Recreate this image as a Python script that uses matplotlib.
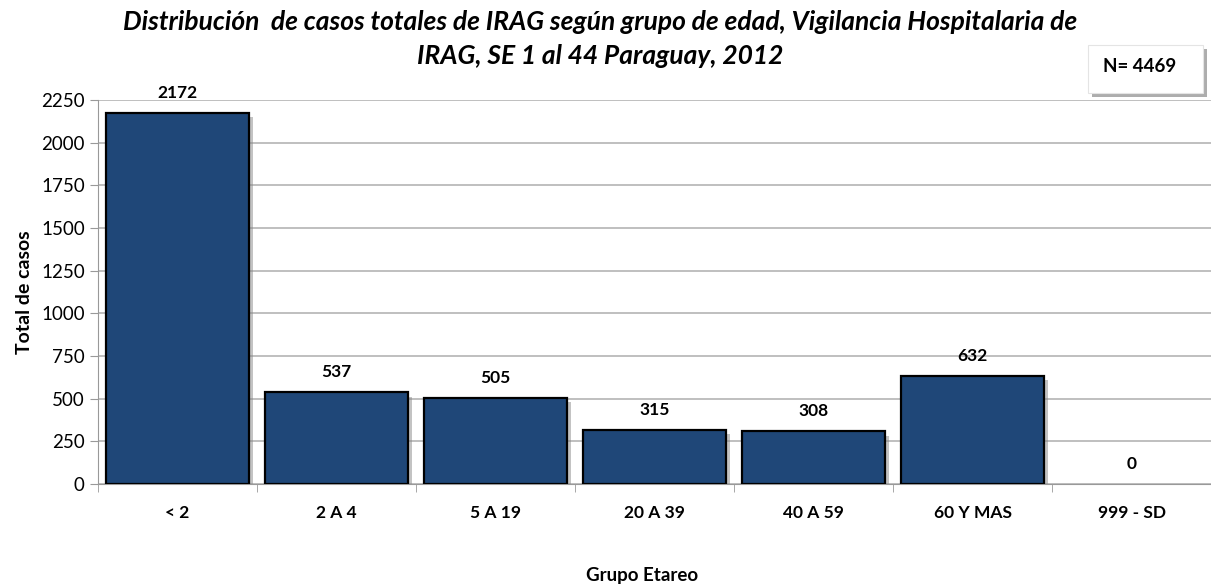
import matplotlib
matplotlib.use("Agg")
import matplotlib.pyplot as plt
import matplotlib.patheffects as pe
from matplotlib.patches import Rectangle
import numpy as np

plt.rcParams['font.family'] = ['Lato', 'DejaVu Sans']

# datos
grupos = ["< 2", "2 A 4", "5 A 19", "20 A 39", "40 A 59", "60 Y MAS", "999 - SD"]
casos = [2172, 537, 505, 315, 308, 632, 0]
y_ticks = [0, 250, 500, 750, 1000, 1250, 1500, 1750, 2000, 2250]
total = 4469

fig = plt.figure(figsize=(12.11, 5.87), dpi=100)
ax = fig.add_axes([98 / 1211, 1 - 484 / 587, 1 - 98 / 1211, (484 - 100) / 587])

x = np.arange(len(grupos))
shadow = [pe.SimplePatchShadow(offset=(3, -3), shadow_rgbFace='#888888', alpha=0.5), pe.Normal()]
barras = ax.bar(x, casos, width=0.9, color='#1f4778', edgecolor='black', linewidth=1.6, zorder=3)
for b, v in zip(barras, casos):
    if v == 0:  # sin borde para barra vacia
        b.set_linewidth(0)
    else:
        b.set_path_effects(shadow)

for xi, v in zip(x, casos):  # etiquetas de valor
    ax.annotate(str(v), (xi, v), xytext=(0, 14.5), textcoords='offset points',
                ha='center', va='center', fontsize=12.5, fontweight='bold')

ax.set_xlim(-0.5, len(grupos) - 0.5)
ax.set_ylim(0, 2250)
ax.set_yticks(y_ticks)
ax.set_xticks(x)
ax.set_xticklabels(grupos, fontsize=12.5, fontweight='bold')
ax.set_xticks(np.arange(len(grupos) + 1) - 0.5, minor=True)
ax.tick_params(axis='x', which='major', length=0, pad=15)
ax.tick_params(axis='x', which='minor', length=6, color='#999999')
ax.tick_params(axis='y', labelsize=13.5, length=6, color='#999999')
ax.yaxis.grid(True, color='#b4b4b4', linewidth=1.2, zorder=0)
ax.set_axisbelow(True)
for s in ['top', 'right']:
    ax.spines[s].set_visible(False)
ax.spines['left'].set_color('#999999')
ax.spines['bottom'].set_color('#999999')

ax.set_ylabel("Total de casos", fontsize=14, fontweight='bold', labelpad=6)
fig.text(642 / 1211, 1 - 576 / 587, "Grupo Etareo", ha='center', va='center',
         fontsize=13.5, fontweight='bold')

fig.text(600 / 1211, 1 - 39 / 587,
         "Distribución  de casos totales de IRAG según grupo de edad, Vigilancia Hospitalaria de\nIRAG, SE 1 al 44 Paraguay, 2012",
         ha='center', va='center', fontsize=19, fontweight='bold', style='italic', linespacing=1.55)

# caja N=
caja = Rectangle((1088 / 1211, 1 - 93 / 587), 115 / 1211, 48 / 587, transform=fig.transFigure,
                 facecolor='white', edgecolor='#e4e4e4', linewidth=0.8, zorder=5)
caja.set_path_effects([pe.SimplePatchShadow(offset=(3, -3), shadow_rgbFace='#777777', alpha=0.6), pe.Normal()])
fig.patches.append(caja)
fig.text(1140 / 1211, 1 - 66 / 587, "N= " + str(total), ha='center', va='center',
         fontsize=13.5, fontweight='bold', zorder=6)

fig.savefig("out.png", dpi=100)
